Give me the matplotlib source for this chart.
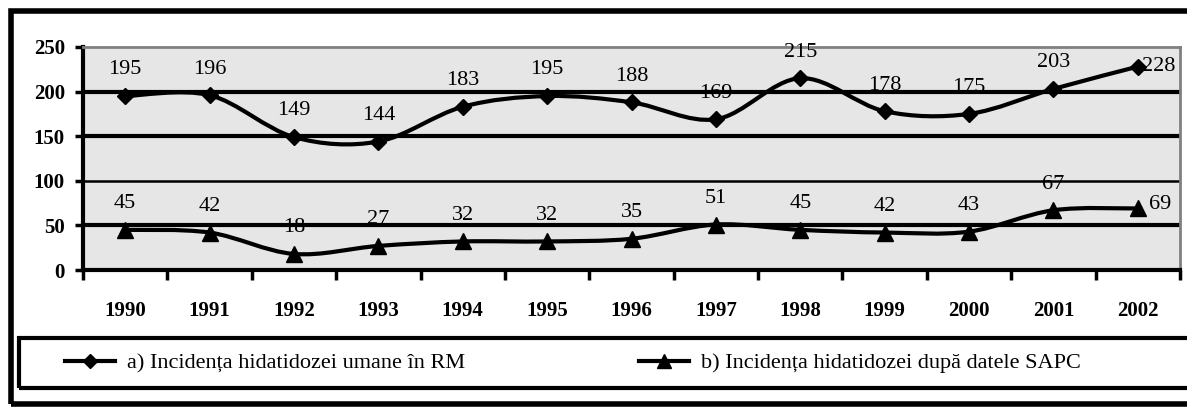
import numpy as np
import matplotlib.pyplot as plt
from matplotlib.path import Path
from matplotlib.patches import PathPatch, Rectangle
from matplotlib.lines import Line2D

years = ['1990', '1991', '1992', '1993', '1994', '1995', '1996',
         '1997', '1998', '1999', '2000', '2001', '2002']
incid_rm = [195, 196, 149, 144, 183, 195, 188, 169, 215, 178, 175, 203, 228]
incid_sapc = [45, 42, 18, 27, 32, 32, 35, 51, 45, 42, 43, 67, 69]
label_rm = 'a) Incidența hidatidozei umane în RM'
label_sapc = 'b) Incidența hidatidozei după datele SAPC'

plt.rcParams['font.family'] = ['Liberation Serif', 'DejaVu Serif']


def smooth_path(xs, ys):
    # Catmull-Rom style bezier segments through the points (smoothed line)
    pts = np.column_stack([xs, ys]).astype(float)
    verts = [pts[0]]
    codes = [Path.MOVETO]
    n = len(pts)
    for i in range(n - 1):
        p0 = pts[i - 1] if i > 0 else pts[i]
        p1 = pts[i]
        p2 = pts[i + 1]
        p3 = pts[i + 2] if i + 2 < n else pts[i + 1]
        c1 = p1 + (p2 - p0) / 6.0
        c2 = p2 - (p3 - p1) / 6.0
        verts += [c1, c2, p2]
        codes += [Path.CURVE4] * 3
    return Path(verts, codes)


W, H = 1187, 408
fig = plt.figure(figsize=(W / 100, H / 100), dpi=100)
ax = fig.add_axes([83 / W, 1 - 270 / H, (1180 - 83) / W, (270 - 47) / H])
ax.set_facecolor('#e6e6e6')

x = np.arange(len(years))
ax.set_xlim(-0.5, len(years) - 0.5)
ax.set_ylim(0, 250)

# horizontal grid
for yv, lw in [(50, 3), (100, 1.8), (150, 3), (200, 3)]:
    ax.axhline(yv, color='black', lw=lw, zorder=1)

for vals, mk, ms in [(incid_rm, 'D', 8), (incid_sapc, '^', 11)]:
    ax.add_patch(PathPatch(smooth_path(x, vals), fill=False, lw=3,
                           edgecolor='black', zorder=3, capstyle='round'))
    ax.plot(x, vals, linestyle='none', marker=mk, ms=ms, color='black', zorder=4)

# value labels
last = len(years) - 1
for vals, side_off in [(incid_rm, (3, 0)), (incid_sapc, (8, 3))]:
    for i, v in enumerate(vals):
        if i == last:
            ax.annotate(str(v), (x[i], v), xytext=side_off, textcoords='offset points',
                        ha='left', va='center', fontsize=16, zorder=5)
        else:
            ax.annotate(str(v), (x[i], v), xytext=(0, 12), textcoords='offset points',
                        ha='center', va='bottom', fontsize=16, zorder=5)

# axes styling
for side in ['left', 'bottom']:
    ax.spines[side].set_linewidth(3)
    ax.spines[side].set_color('black')
for side in ['top', 'right']:
    ax.spines[side].set_linewidth(2)
    ax.spines[side].set_color('#808080')

ax.set_yticks([0, 50, 100, 150, 200, 250])
ax.tick_params(axis='y', length=6, width=2.5, direction='out', pad=7,
               labelsize=15)
for t in ax.get_yticklabels():
    t.set_fontweight('bold')

ax.set_xticks(x)
ax.set_xticklabels(years, fontsize=15, fontweight='bold')
ax.tick_params(axis='x', which='major', length=0, pad=22)
ax.set_xticks(np.arange(-0.5, len(years)), minor=True)
ax.tick_params(axis='x', which='minor', length=7, width=2.5, direction='out')

# outer frame and legend box (both run off the right edge)
fig.add_artist(Rectangle((11 / W, 4 / H), 1200 / W, 393 / H, transform=fig.transFigure,
                         fill=False, lw=4, edgecolor='black'))
fig.add_artist(Rectangle((19 / W, 20 / H), 1190 / W, 50 / H, transform=fig.transFigure,
                         fill=False, lw=3, edgecolor='black'))

handles = [
    Line2D([], [], color='black', lw=3, marker='D', ms=7),
    Line2D([], [], color='black', lw=3, marker='^', ms=10),
]
fig.legend(handles, [label_rm, label_sapc], loc='center', ncol=2,
           bbox_to_anchor=(573 / W, 45 / H), frameon=False, fontsize=16,
           handlelength=2.25, handletextpad=0.55, columnspacing=7.8)

fig.savefig('out.png', dpi=100)
